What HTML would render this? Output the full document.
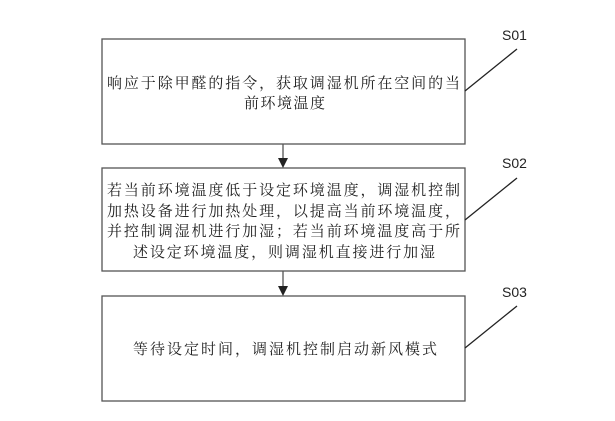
<!DOCTYPE html>
<html><head><meta charset="utf-8"><style>html,body{margin:0;padding:0;background:#fff}svg{display:block}</style></head>
<body>
<svg width="615" height="421" xmlns="http://www.w3.org/2000/svg" font-family="'Liberation Serif','Noto Serif CJK SC','Noto Sans CJK SC',serif" font-size="15" fill="#222">
<g fill="none" stroke="#555" stroke-width="1.3">
<rect x="102" y="39" width="363" height="105"/>
<rect x="102" y="168" width="363" height="103"/>
<rect x="102" y="296" width="363" height="105"/>
<line x1="283" y1="144" x2="283" y2="160"/>
<line x1="283" y1="271" x2="283" y2="288"/>
</g>
<g stroke="#222" stroke-width="1.3">
<line x1="465" y1="91" x2="517" y2="49"/>
<line x1="465" y1="220" x2="517" y2="178"/>
<line x1="465" y1="348" x2="517" y2="306"/>
</g>
<polygon points="278,158 288,158 283,168" fill="#222"/>
<polygon points="278,286 288,286 283,296" fill="#222"/>
<g font-family="'Liberation Sans',sans-serif" font-size="14" fill="#222">
<text x="502" y="40">S01</text>
<text x="502" y="168">S02</text>
<text x="502" y="297">S03</text>
</g>
<text x="107" y="88" textLength="353" lengthAdjust="spacing">响应于除甲醛的指令，获取调湿机所在空间的当</text>
<text x="244" y="108" textLength="81" lengthAdjust="spacing">前环境温度</text>
<text x="107" y="195" textLength="353" lengthAdjust="spacing">若当前环境温度低于设定环境温度，调湿机控制</text>
<text x="107" y="216" textLength="353" lengthAdjust="spacing">加热设备进行加热处理，以提高当前环境温度，</text>
<text x="107" y="236" textLength="353" lengthAdjust="spacing">并控制调湿机进行加湿；若当前环境温度高于所</text>
<text x="133" y="257" textLength="302" lengthAdjust="spacing">述设定环境温度，则调湿机直接进行加湿</text>
<text x="133" y="354" textLength="304" lengthAdjust="spacing">等待设定时间，调湿机控制启动新风模式</text>
</svg>
</body></html>
